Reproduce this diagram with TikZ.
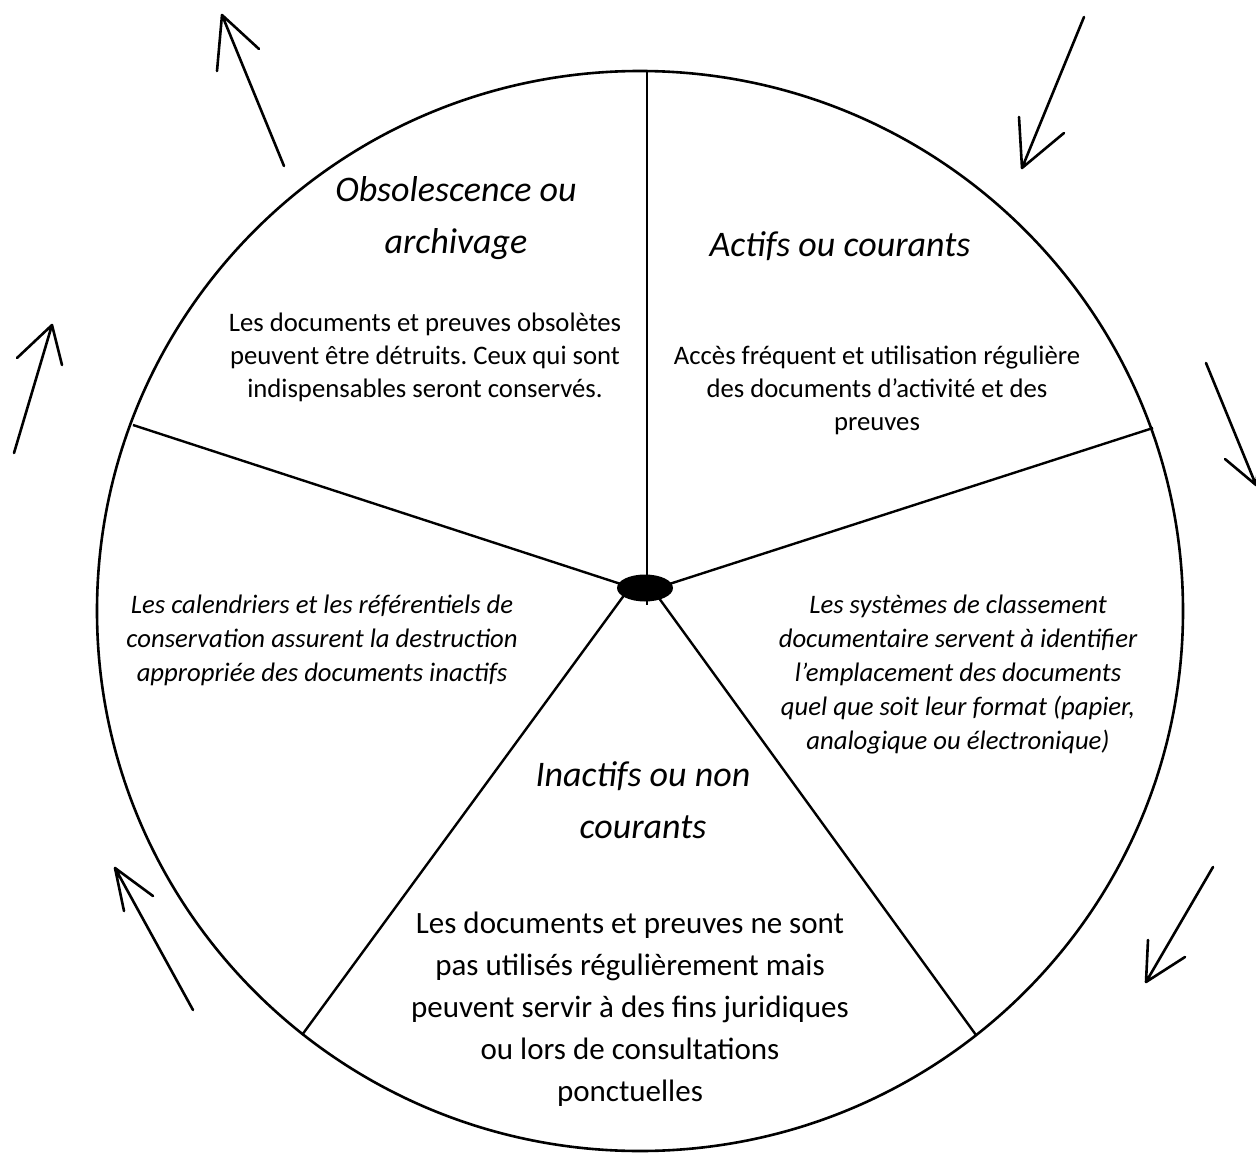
\documentclass[tikz,border=0pt]{standalone}
\usepackage{fontspec}
\setmainfont{Carlito}
\frenchspacing
\usetikzlibrary{shapes.geometric}
\begin{document}
\begin{tikzpicture}[x=1pt,y=-1pt,
  rim/.style={line width=2.6pt},
  spoke/.style={line width=2.4pt},
  cyc/.style={line width=2.6pt, line cap=round, line join=round},
  title/.style={align=center, font=\itshape\fontsize{36}{52}\selectfont, inner sep=0pt},
  body/.style={align=center, font=\fontsize{26.7}{33}\selectfont, inner sep=0pt},
  ibody/.style={align=center, font=\itshape\fontsize{26.7}{34}\selectfont, inner sep=0pt},
  big/.style={align=center, font=\fontsize{31}{42}\selectfont, inner sep=0pt}]
\useasboundingbox (0,0) rectangle (1256,1153);
\begin{scope}
\clip (0,0) rectangle (1256,1153);
% outer circle
\draw[rim] (640,611) ellipse [x radius=543, y radius=540];
% spoke end points
\coordinate (pT) at (647,72);
\coordinate (pTe) at (647,605);
\coordinate (pL) at (133,425);
\coordinate (pLs) at (630,587);
\coordinate (pR) at (1153,428);
\coordinate (pRs) at (660,587);
\coordinate (pLL) at (302,1035);
\coordinate (pLLs) at (625,594);
\coordinate (pLR) at (976,1035);
\coordinate (pLRs) at (656,594);
\draw[spoke] (pT) -- (pTe);
\draw[spoke] (pL) -- (pLs);
\draw[spoke] (pR) -- (pRs);
\draw[spoke] (pLL) -- (pLLs);
\draw[spoke] (pLR) -- (pLRs);
\node[ellipse, fill=black, minimum width=56pt, minimum height=27pt, inner sep=0pt] (hub) at (645,588) {};
% cycle arrows
\coordinate (a1t) at (284,166); \coordinate (a1h) at (222,15);
\coordinate (a1b) at (217,71); \coordinate (a1c) at (259,49);
\draw[cyc] (a1t) -- (a1h) (a1b) -- (a1h) -- (a1c);
\coordinate (a2t) at (1084,17); \coordinate (a2h) at (1022,168);
\coordinate (a2b) at (1019,117); \coordinate (a2c) at (1064,133);
\draw[cyc] (a2t) -- (a2h) (a2b) -- (a2h) -- (a2c);
\coordinate (a3t) at (14,453); \coordinate (a3h) at (52,325);
\coordinate (a3b) at (17,358); \coordinate (a3c) at (62,365);
\draw[cyc] (a3t) -- (a3h) (a3b) -- (a3h) -- (a3c);
\coordinate (a4t) at (1206,363); \coordinate (a4h) at (1256,485);
\coordinate (a4b) at (1225,459); \coordinate (a4c) at (1262,440);
\draw[cyc] (a4t) -- (a4h) (a4b) -- (a4h) -- (a4c);
\coordinate (a5t) at (1213,867); \coordinate (a5h) at (1146,982);
\coordinate (a5b) at (1148,940); \coordinate (a5c) at (1185,957);
\draw[cyc] (a5t) -- (a5h) (a5b) -- (a5h) -- (a5c);
\coordinate (a6t) at (193,1010); \coordinate (a6h) at (115,868);
\coordinate (a6b) at (153,896); \coordinate (a6c) at (124,911);
\draw[cyc] (a6t) -- (a6h) (a6b) -- (a6h) -- (a6c);
\end{scope}
% texts
\node[title] (t1) at (456,218) {Obsolescence ou\\archivage};
\node[title] (t2) at (840,246) {Actifs ou courants};
\node[body] (b1) at (425,357) {Les documents et preuves obsolètes\\peuvent être détruits. Ceux qui sont\\indispensables seront conservés.};
\node[body] (b2) at (877,390) {Accès fréquent et utilisation régulière\\des documents d’activité et des\\preuves};
\node[ibody] (b3) at (322,640) {Les calendriers et les référentiels de\\conservation assurent la destruction\\appropriée des documents inactifs};
\node[ibody] (b4) at (958,675) {Les systèmes de classement\\documentaire servent à identifier\\l’emplacement des documents\\quel que soit leur format (papier,\\analogique ou électronique)};
\node[title] (t3) at (643,800) {Inactifs ou non\\courants};
\node[big] (b5) at (630,1009) {Les documents et preuves ne sont\\pas utilisés régulièrement mais\\peuvent servir à des fins juridiques\\ou lors de consultations\\ponctuelles};
\end{tikzpicture}
\end{document}
